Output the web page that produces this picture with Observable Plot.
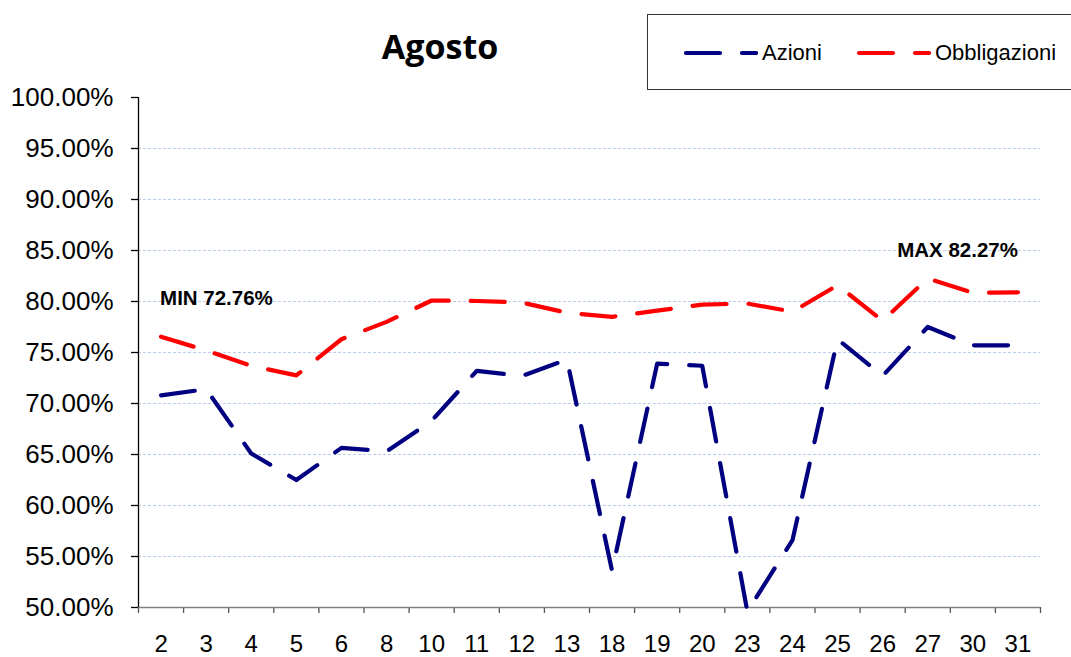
<!DOCTYPE html>
<html>
<head>
<meta charset="utf-8">
<script src="https://cdn.jsdelivr.net/npm/d3@7"></script>
<script src="https://cdn.jsdelivr.net/npm/@observablehq/plot@0.6"></script>
<style>
  html, body { margin: 0; padding: 0; background: #fff; }
  #wrap { position: relative; width: 1071px; height: 657px; overflow: hidden; font-family: "Liberation Sans", Arial, sans-serif; }
  #title { position: absolute; left: 340px; width: 200px; top: 22px; text-align: center; font-family: "Open Sans", sans-serif; font-weight: 700; font-size: 34px; line-height: 48px; color: #000; }
  #legend { position: absolute; left: 647px; top: 14px; width: 440px; height: 76px; border: 1.5px solid #333; box-sizing: border-box; background: #fff; }
  .item { position: absolute; top: 26px; height: 24px; display: flex; align-items: center; font-size: 22px; color: #000; }
  .item svg { margin-right: 4px; }
  #chart { position: absolute; left: 0; top: 0; }
</style>
</head>
<body>
<div id="wrap">
  <div id="chart"></div>
  <div id="title">Agosto</div>
  <div id="legend"></div>
</div>
<script>
const days = ["2","3","4","5","6","8","10","11","12","13","18","19","20","23","24","25","26","27","30","31"];
const azioni = [70.8, 71.4, 65.1, 62.5, 65.65, 65.3, 68.3, 73.2, 72.7, 74.3, 53.6, 73.9, 73.7, 49.6, 56.6, 76.3, 72.7, 77.5, 75.7, 75.7];
const obbligazioni = [76.55, 75.2, 73.7, 72.76, 76.3, 78.0, 80.1, 80.05, 79.9, 78.9, 78.5, 79.1, 79.7, 79.8, 79.0, 81.6, 78.1, 82.27, 80.85, 80.9];
const seriesNames = ["Azioni", "Obbligazioni"];
const seriesColors = ["#000080", "#ff0000"];
const yTicks = [50, 55, 60, 65, 70, 75, 80, 85, 90, 95, 100];
const gridTicks = [55, 60, 65, 70, 75, 80, 85, 90, 95];

const rows = days.map((d, i) => ({i, day: d, azioni: azioni[i], obbligazioni: obbligazioni[i]}));
const edges = d3.range(days.length + 1).map(k => k - 0.5);
const minVal = d3.min(obbligazioni), maxVal = d3.max(obbligazioni);
const fmt = v => v.toFixed(2) + "%";
const dash = "34,22";

const chart = Plot.plot({
  width: 1071,
  height: 657,
  marginTop: 97,
  marginBottom: 50,
  marginLeft: 138,
  marginRight: 31,
  style: {fontFamily: "'Liberation Sans', Arial, sans-serif", background: "transparent", overflow: "visible"},
  x: {type: "linear", domain: [-0.5, days.length - 0.5], label: null},
  y: {domain: [50, 100], label: null},
  marks: [
    Plot.ruleY(gridTicks, {stroke: "#b9cdea", strokeWidth: 1, strokeDasharray: "3,2"}),
    Plot.axisY(yTicks, {tickFormat: fmt, tickSize: 7, tickPadding: 18, fontSize: 26, stroke: "#000", fill: "#000", strokeOpacity: 1, strokeWidth: 1.3, label: null}),
    Plot.axisX(edges, {tickFormat: () => "", tickSize: 6, stroke: "#555", strokeWidth: 1.3, strokeOpacity: 1, label: null}),
    Plot.axisX(d3.range(days.length), {tickFormat: i => days[i], tickSize: 0, tickPadding: 27, fontSize: 24, fill: "#000", label: null}),
    Plot.ruleY([50], {stroke: "#808080", strokeWidth: 1.5}),
    Plot.ruleX([-0.5], {y1: 50, y2: 100, stroke: "#000", strokeWidth: 1.3}),
    Plot.line(rows, {x: "i", y: "obbligazioni", stroke: seriesColors[1], strokeWidth: 4.2, strokeDasharray: dash, strokeLinecap: "round", strokeLinejoin: "round"}),
    Plot.line(rows, {x: "i", y: "azioni", stroke: seriesColors[0], strokeWidth: 4.2, strokeDasharray: dash, strokeLinecap: "round", strokeLinejoin: "round"}),
    Plot.text([{i: 0, v: 80, t: "MIN " + fmt(minVal)}], {x: "i", y: "v", text: "t", textAnchor: "start", dy: -3, dx: -1, fontSize: 20.5, fontWeight: "bold", fill: "#000"}),
    Plot.text([{i: days.length - 1, v: 85, t: "MAX " + fmt(maxVal)}], {x: "i", y: "v", text: "t", textAnchor: "end", dy: 0, fontSize: 20.5, fontWeight: "bold", fill: "#000"})
  ]
});
document.getElementById("chart").appendChild(chart);

const legend = document.getElementById("legend");
const lefts = [34, 207];
seriesNames.forEach((name, k) => {
  const div = document.createElement("div");
  div.className = "item";
  div.style.left = lefts[k] + "px";
  div.innerHTML = `<svg width="76" height="10"><line x1="4" y1="5" x2="74" y2="5" stroke="${seriesColors[k]}" stroke-width="4.2" stroke-linecap="round" stroke-dasharray="34,22"/></svg>${name}`;
  legend.appendChild(div);
});
</script>
</body>
</html>
